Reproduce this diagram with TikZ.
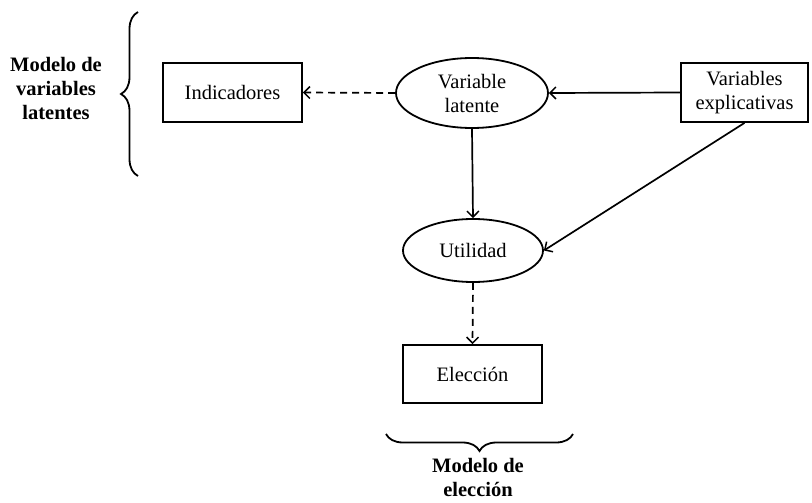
\documentclass[tikz,border=0pt]{standalone}
\usepackage{fontspec}
\setmainfont{Liberation Serif}
\usetikzlibrary{shapes.geometric,arrows.meta,decorations.pathreplacing}
\begin{document}
\begin{tikzpicture}[x=1pt,y=-1pt,
 base/.style={font=\fontsize{20.5}{24}\selectfont, align=center, draw, line width=1.8pt, inner sep=0pt},
 boxn/.style={base, rectangle},
 elln/.style={base, ellipse},
 arr/.style={line width=1.7pt, -{Straight Barb[length=6pt,width=12pt,line width=1.5pt]}},
 dsh/.style={arr, dash pattern=on 7pt off 5pt},
 brc/.style={decorate, decoration={brace, amplitude=17pt}, line width=1.8pt},
 lbl/.style={font=\fontsize{20.5}{24}\selectfont\bfseries, align=center}]
\useasboundingbox (0,0) rectangle (812,503);
\node[boxn, minimum width=139pt, minimum height=59pt] (ind) at (232.5,92.5) {Indicadores};
\node[elln, minimum width=152pt, minimum height=70pt] (vl) at (472,93) {Variable\\latente};
\node[boxn, minimum width=127pt, minimum height=59pt] (ve) at (744.5,92.5) {Variables\\explicativas};
\node[elln, minimum width=140pt, minimum height=63pt] (ut) at (473,250.5) {Utilidad};
\node[boxn, minimum width=139pt, minimum height=58pt] (el) at (472.5,374) {Elección};
\draw[dsh] (vl.west) -- (ind.east);
\draw[arr] (ve.west) -- (vl.east);
\draw[arr] (vl.south) -- (ut.north);
\draw[arr] (ve.south) -- (ut.east);
\draw[dsh] (ut.south) -- (el.north);
\coordinate (lbt) at (138,12);
\coordinate (lbb) at (138,176);
\draw[brc] (lbb) -- (lbt);
\coordinate (bbr) at (573,434);
\coordinate (bbl) at (386,434);
\draw[brc] (bbr) -- (bbl);
\node[lbl] (ml) at (56,88) {Modelo de\\variables\\latentes};
\node[lbl] (me) at (478,477) {Modelo de\\elección};
\end{tikzpicture}
\end{document}
